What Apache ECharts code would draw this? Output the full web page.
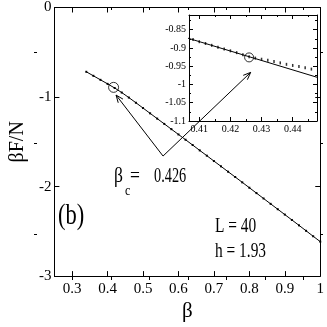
<!DOCTYPE html>
<html><head><meta charset="utf-8">
<style>html,body{margin:0;padding:0;background:#fff}#c{width:327px;height:327px}</style>
<script src="https://cdn.jsdelivr.net/npm/echarts@6/dist/echarts.min.js"></script>
</head><body><div id="c"></div>
<script>
// ---- data ----
const mainBeta = [0.34,0.36,0.38,0.40,0.42,0.44,0.46,0.48,0.50,0.52,0.54,0.56,0.58,0.60,0.62,0.64,0.66,0.68,0.70,0.72,0.74,0.76,0.78,0.80,0.82,0.84,0.86,0.88,0.90,0.92,0.94,0.96,0.98,1.00];
const mainValues = [-0.718,-0.763,-0.808,-0.853,-0.899,-0.950,-1.006,-1.064,-1.123,-1.182,-1.241,-1.300,-1.359,-1.418,-1.477,-1.536,-1.596,-1.655,-1.715,-1.774,-1.834,-1.893,-1.953,-2.013,-2.073,-2.133,-2.193,-2.253,-2.313,-2.373,-2.433,-2.494,-2.555,-2.615];
const mainCriticalBeta = [0.417];
const mainCriticalValues = [-0.892];

const insetBeta = [0.406,0.408,0.410,0.412,0.414,0.416,0.418,0.420,0.422,0.424,0.426,0.428,0.430,0.432,0.434,0.436,0.438,0.440,0.442,0.444,0.446,0.448];
const insetValues = [-0.872,-0.877,-0.883,-0.888,-0.893,-0.898,-0.903,-0.908,-0.913,-0.919,-0.924,-0.928,-0.931,-0.934,-0.937,-0.941,-0.945,-0.948,-0.951,-0.954,-0.958,-0.961];
const insetLineBeta = [0.400, 0.450];
const insetLineValues = [-0.857, -0.986];
const insetCriticalBeta = [0.426];
const insetCriticalValues = [-0.926];

const xTickValues = [0.3,0.4,0.5,0.6,0.7,0.8,0.9,1.0];
const xTickLabels = ['0.3','0.4','0.5','0.6','0.7','0.8','0.9','1'];
const xMinorTicks = [0.35,0.45,0.55,0.65,0.75,0.85,0.95];
const yTickValues = [-3,-2,-1,0];
const yTickLabels = ['-3','-2','-1','0'];
const yMinorTicks = [-2.5,-1.5,-0.5];
const insetXTickValues = [0.41,0.42,0.43,0.44];
const insetXTickLabels = ['0.41','0.42','0.43','0.44'];
const insetXMinorTicks = [0.415,0.425,0.435,0.445];
const insetYTickValues = [-1.1,-1.05,-1,-0.95,-0.9,-0.85];
const insetYTickLabels = ['-1.1','-1.05','-1','-0.95','-0.9','-0.85'];
const insetYMinorTicks = [-1.075,-1.025,-0.975,-0.925,-0.875,-0.825];

// annotation anchors (data coordinates)
const arrowVertex = [0.5565, -1.659];
const arrowTipMain = [0.424, -0.978];
const arrowTipInset = [0.4265, -0.967];

// ---- chart ----
const FONT = 'Liberation Serif, Times New Roman, serif';
const zip = (a, b) => a.map((v, i) => [v, b[i]]);
const fmt = (vals, labels) => v => { const i = vals.findIndex(t => Math.abs(t - v) < 1e-7); return i >= 0 ? labels[i] : ''; };

const MAIN = {left: 34, top: 7, width: 289, height: 273};
const INSET = {left: 189, top: 15, width: 128, height: 106};
const XR = [0.25, 1], YR = [-3, 0];
const IXR = [0.4067, 0.4478], IYR = [-1.1, -0.81];

function ax(gridIndex, position, range, ticks, len, opts) {
  opts = opts || {};
  return Object.assign({
    type: 'value', gridIndex, position, min: range[0], max: range[1],
    axisLine: {show: opts.line !== false, onZero: false, lineStyle: {color: '#000', width: 1}},
    axisTick: {show: true, inside: true, length: len, customValues: ticks, lineStyle: {color: '#000', width: 1}},
    axisLabel: opts.labels ? {show: true, customValues: ticks, formatter: fmt(ticks, opts.labels),
      color: '#000', fontFamily: FONT, fontSize: opts.fontSize || 14, margin: opts.margin || 4} : {show: false},
    splitLine: {show: false}, minorTick: {show: false}, minorSplitLine: {show: false}
  }, opts.extra || {});
}

const chart = echarts.init(document.getElementById('c'), null, {renderer: 'canvas'});
chart.setOption({
  animation: false,
  backgroundColor: '#fff',
  grid: [
    Object.assign({containLabel: false}, MAIN),
    Object.assign({containLabel: false}, MAIN),
    Object.assign({containLabel: false}, INSET),
    Object.assign({containLabel: false}, INSET)
  ],
  xAxis: [
    ax(0, 'bottom', XR, xTickValues, 5, {labels: xTickLabels, fontSize: 15, margin: 5,
      extra: {name: 'β', nameLocation: 'middle', nameGap: 22, nameTextStyle: {fontFamily: FONT, fontSize: 21, color: '#000'}}}),
    ax(0, 'top', XR, xTickValues, 5),
    ax(1, 'bottom', XR, xMinorTicks, 3, {line: false}),
    ax(1, 'top', XR, xMinorTicks, 3, {line: false}),
    ax(2, 'bottom', IXR, insetXTickValues, 4, {labels: insetXTickLabels, fontSize: 10, margin: 3}),
    ax(2, 'top', IXR, insetXTickValues, 4),
    ax(3, 'bottom', IXR, insetXMinorTicks, 2, {line: false}),
    ax(3, 'top', IXR, insetXMinorTicks, 2, {line: false})
  ],
  yAxis: [
    ax(0, 'left', YR, yTickValues, 5, {labels: yTickLabels, fontSize: 15, margin: 3,
      extra: {name: 'βF/N', nameLocation: 'middle', nameGap: 20, nameTextStyle: {fontFamily: FONT, fontSize: 20, color: '#000'}}}),
    ax(0, 'right', YR, yTickValues, 5),
    ax(1, 'left', YR, yMinorTicks, 3, {line: false}),
    ax(1, 'right', YR, yMinorTicks, 3, {line: false}),
    ax(2, 'left', IYR, insetYTickValues, 4, {labels: insetYTickLabels, fontSize: 10, margin: 3}),
    ax(2, 'right', IYR, insetYTickValues, 4),
    ax(3, 'left', IYR, insetYMinorTicks, 2, {line: false}),
    ax(3, 'right', IYR, insetYMinorTicks, 2, {line: false})
  ],
  series: [
    {type: 'line', xAxisIndex: 0, yAxisIndex: 0, data: zip(mainBeta, mainValues),
     symbol: 'rect', symbolSize: 2, showSymbol: true, lineStyle: {color: '#000', width: 1}, itemStyle: {color: '#000'}},
    {type: 'scatter', xAxisIndex: 0, yAxisIndex: 0, data: zip(mainCriticalBeta, mainCriticalValues),
     symbol: 'circle', symbolSize: 10, itemStyle: {color: 'rgba(0,0,0,0)', borderColor: '#000', borderWidth: 1}},
    {type: 'line', xAxisIndex: 4, yAxisIndex: 4, data: zip(insetLineBeta, insetLineValues), clip: true,
     symbol: 'none', lineStyle: {color: '#000', width: 1}},
    {type: 'scatter', xAxisIndex: 4, yAxisIndex: 4, data: zip(insetBeta, insetValues), clip: true,
     symbol: 'rect', symbolSize: [1.5, 3], itemStyle: {color: '#000'}},
    {type: 'scatter', xAxisIndex: 4, yAxisIndex: 4, data: zip(insetCriticalBeta, insetCriticalValues),
     symbol: 'circle', symbolSize: 9, itemStyle: {color: 'rgba(0,0,0,0)', borderColor: '#000', borderWidth: 1}}
  ]
});

function arrow(from, to) {
  const dx = to[0] - from[0], dy = to[1] - from[1];
  const L = Math.hypot(dx, dy), ux = dx / L, uy = dy / L;
  const a = 22 * Math.PI / 180, h = 8;
  const arm = s => [to[0] - h * (ux * Math.cos(a) - s * uy * Math.sin(a)), to[1] - h * (uy * Math.cos(a) + s * ux * Math.sin(a))];
  return [
    {type: 'polyline', shape: {points: [from, to]}, style: {stroke: '#000', fill: null, lineWidth: 1}, z: 100},
    {type: 'polyline', shape: {points: [arm(1), to, arm(-1)]}, style: {stroke: '#000', fill: null, lineWidth: 1}, z: 100}
  ];
}
function txt(text, x, y, size, sx) {
  return {type: 'text', x, y, scaleX: sx, z: 100,
    style: {text, fontFamily: FONT, fontSize: size, fill: '#000', align: 'left', verticalAlign: 'middle'}};
}
const V = chart.convertToPixel({gridIndex: 0}, arrowVertex);
const TM = chart.convertToPixel({gridIndex: 0}, arrowTipMain);
const TI = chart.convertToPixel({gridIndex: 2}, arrowTipInset);
chart.setOption({graphic: [].concat(
  arrow(V, TM), arrow(V, TI),
  [txt('β', 114, 176, 22, 0.8), txt('c', 125, 191, 15, 0.8), txt('=', 130, 176, 22, 0.8), txt('0.426', 154, 176, 22, 0.65),
   txt('(b)', 58, 216, 30, 0.75),
   txt('L = 40', 215, 226, 22, 0.7), txt('h = 1.93', 215, 251, 22, 0.7)]
)});
</script></body></html>
